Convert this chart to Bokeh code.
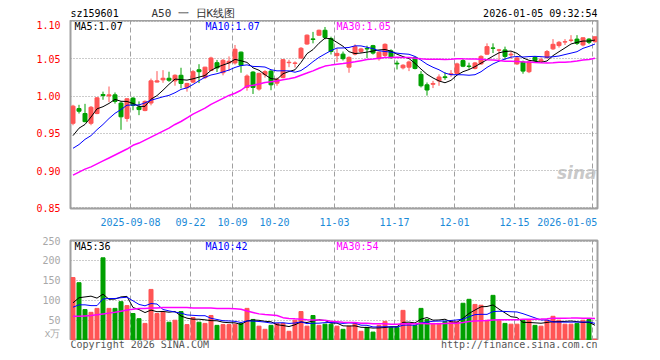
from bokeh.plotting import figure
from bokeh.models import Range1d, FixedTicker, Label, ColumnDataSource
from bokeh.layouts import column
from bokeh.embed import file_html
from bokeh.resources import INLINE
from bokeh.core.properties import value

# ---------------- data ----------------
dates = (
    ["2025-08-%s" % d for d in ["25", "26", "27", "28", "29"]]
    + ["2025-09-%s" % d for d in ["01", "02", "03", "04", "05", "08", "09", "10", "11", "12", "15", "16",
                                  "17", "18", "19", "22", "23", "24", "25", "26", "29", "30"]]
    + ["2025-10-%s" % d for d in ["09", "10", "13", "14", "15", "16", "17", "20", "21", "22", "23", "24",
                                  "27", "28", "29", "30", "31"]]
    + ["2025-11-%s" % d for d in ["03", "04", "05", "06", "07", "10", "11", "12", "13", "14", "17", "18",
                                  "19", "20", "21", "24", "25", "26", "27", "28"]]
    + ["2025-12-%s" % d for d in ["01", "02", "03", "04", "05", "08", "09", "10", "11", "12", "15", "16",
                                  "17", "18", "19", "22", "23", "24", "25", "26", "29", "30", "31"]]
    + ["2026-01-05"]
)

opens = [0.9636, 0.9833, 0.9767, 0.9636, 0.9767, 1.0022, 1.0004, 1.0018, 0.9907, 0.9701,
         0.9974, 0.9855, 0.9807, 0.9908, 1.0190, 1.0220, 1.0241, 1.0206, 1.0281, 1.0114,
         1.0189, 1.0355, 1.0250, 1.0345, 1.0450, 1.0315, 1.0447, 1.0447, 1.0592, 1.0118,
         1.0324, 1.0096, 1.0290, 1.0337, 1.0175, 1.0250, 1.0450, 1.0440, 1.0513, 1.0701,
         1.0770, 1.0820, 1.0886, 1.0776, 1.0545, 1.0565, 1.0390, 1.0565, 1.0600, 1.0640,
         1.0679, 1.0504, 1.0548, 1.0609, 1.0443, 1.0381, 1.0390, 1.0522, 1.0293, 1.0153,
         1.0160, 1.0206, 1.0260, 1.0290, 1.0302, 1.0478, 1.0405, 1.0373, 1.0434, 1.0565,
         1.0648, 1.0618, 1.0622, 1.0555, 1.0434, 1.0460, 1.0329, 1.0522, 1.0470, 1.0520,
         1.0636, 1.0680, 1.0727, 1.0750, 1.0767, 1.0688, 1.0767, 1.0732]
highs = [0.9884, 0.9884, 0.9897, 0.9868, 0.9987, 1.0061, 1.0130, 1.0050, 0.9930, 0.9974,
         0.9987, 0.9930, 0.9943, 1.0237, 1.0337, 1.0350, 1.0329, 1.0294, 1.0382, 1.0180,
         1.0351, 1.0430, 1.0395, 1.0530, 1.0487, 1.0499, 1.0535, 1.0688, 1.0600, 1.0293,
         1.0337, 1.0315, 1.0350, 1.0350, 1.0250, 1.0500, 1.0490, 1.0468, 1.0660, 1.0830,
         1.0864, 1.0895, 1.0930, 1.0800, 1.0640, 1.0600, 1.0535, 1.0697, 1.0650, 1.0679,
         1.0690, 1.0600, 1.0710, 1.0630, 1.0478, 1.0430, 1.0478, 1.0530, 1.0337, 1.0184,
         1.0206, 1.0293, 1.0320, 1.0350, 1.0450, 1.0500, 1.0450, 1.0460, 1.0550, 1.0710,
         1.0710, 1.0635, 1.0666, 1.0600, 1.0530, 1.0478, 1.0470, 1.0540, 1.0520, 1.0620,
         1.0767, 1.0741, 1.0767, 1.0820, 1.0820, 1.0790, 1.0780, 1.0800]
lows = [0.9610, 0.9767, 0.9649, 0.9610, 0.9758, 0.9952, 0.9920, 0.9900, 0.9548, 0.9657,
        0.9811, 0.9745, 0.9798, 0.9877, 1.0184, 1.0180, 1.0193, 1.0141, 1.0105, 1.0061,
        1.0176, 1.0176, 1.0230, 1.0340, 1.0325, 1.0280, 1.0337, 1.0425, 1.0315, 1.0074,
        1.0030, 1.0074, 1.0250, 1.0080, 1.0140, 1.0240, 1.0390, 1.0385, 1.0500, 1.0690,
        1.0710, 1.0810, 1.0763, 1.0560, 1.0460, 1.0480, 1.0315, 1.0548, 1.0580, 1.0513,
        1.0560, 1.0478, 1.0521, 1.0500, 1.0359, 1.0360, 1.0337, 1.0360, 1.0118, 1.0008,
        1.0109, 1.0140, 1.0220, 1.0260, 1.0290, 1.0390, 1.0370, 1.0360, 1.0420, 1.0557,
        1.0579, 1.0470, 1.0491, 1.0500, 1.0420, 1.0302, 1.0310, 1.0460, 1.0450, 1.0500,
        1.0622, 1.0653, 1.0688, 1.0724, 1.0688, 1.0670, 1.0700, 1.0720]
closes = [0.9866, 0.9798, 0.9658, 0.9851, 0.9978, 1.0009, 1.0018, 0.9930, 0.9723, 0.9965,
          0.9877, 0.9820, 0.9930, 1.0206, 1.0206, 1.0241, 1.0215, 1.0281, 1.0171, 1.0171,
          1.0329, 1.0329, 1.0390, 1.0513, 1.0380, 1.0482, 1.0469, 1.0631, 1.0416, 1.0271,
          1.0118, 1.0307, 1.0330, 1.0153, 1.0228, 1.0491, 1.0456, 1.0447, 1.0644, 1.0820,
          1.0762, 1.0886, 1.0790, 1.0600, 1.0575, 1.0504, 1.0521, 1.0666, 1.0635, 1.0635,
          1.0579, 1.0592, 1.0697, 1.0521, 1.0434, 1.0416, 1.0460, 1.0372, 1.0140, 1.0083,
          1.0171, 1.0258, 1.0250, 1.0302, 1.0434, 1.0403, 1.0400, 1.0447, 1.0535, 1.0666,
          1.0644, 1.0622, 1.0535, 1.0565, 1.0513, 1.0337, 1.0460, 1.0478, 1.0490, 1.0600,
          1.0697, 1.0724, 1.0732, 1.0754, 1.0710, 1.0785, 1.0724, 1.0798]
# volume, unit: 万 (10k)
volumes = [158, 145, 77, 70, 80, 208, 80, 80, 97, 87,
           67, 54, 42, 128, 67, 70, 45, 50, 72, 39,
           57, 45, 42, 62, 37, 39, 39, 40, 42, 80,
           52, 35, 27, 37, 42, 42, 22, 50, 72, 35,
           62, 37, 40, 40, 35, 27, 35, 42, 22, 32,
           20, 37, 47, 32, 32, 75, 40, 37, 80, 52,
           42, 42, 47, 47, 46, 93, 103, 90, 88, 50,
           113, 50, 42, 40, 40, 50, 50, 37, 35, 50,
           60, 50, 40, 40, 42, 50, 52, 2]

# moving-average values at the left edge (history before the window)
ma5_head = [0.947, 0.957, 0.962, 0.972]
ma10_head = [0.930, 0.935, 0.942, 0.947, 0.955, 0.962, 0.970, 0.977, 0.982]
ma30_head = [0.894, 0.898, 0.902, 0.905, 0.909, 0.913, 0.917, 0.921, 0.925, 0.929,
             0.934, 0.937, 0.941, 0.945, 0.949, 0.953, 0.957, 0.962, 0.966, 0.971,
             0.976, 0.980, 0.984, 0.989, 0.993, 0.997, 1.001, 1.004, 1.008]
vma5_head = [94, 107, 109, 111]
vma10_head = [83, 89, 89, 87, 87, 104, 105, 105, 107]
vma30_head = [60, 60, 61, 62, 64, 66, 68, 70, 73, 76, 78, 80, 80, 81, 81, 82, 82, 82, 82, 82,
              81, 81, 81, 81, 80, 80, 80, 79, 78]

price_ticks = [0.85, 0.90, 0.95, 1.00, 1.05, 1.10]
vol_ticks = [50, 100, 150, 200, 250]
date_ticks = ["2025-09-08", "2025-09-22", "2025-10-09", "2025-10-20", "2025-11-03",
              "2025-11-17", "2025-12-01", "2025-12-15", "2026-01-05"]
date_tick_labels = ["2025-09-08", "09-22", "10-09", "10-20", "11-03", "11-17", "12-01", "12-15",
                    "2026-01-05"]

code = "sz159601"
title = "A50 一 日K线图"
stamp = "2026-01-05 09:32:54"
price_ma_labels = ["MA5:1.07", "MA10:1.07", "MA30:1.05"]
vol_ma_labels = ["MA5:36", "MA10:42", "MA30:54"]
vol_unit = "x万"
copyright_text = "Copyright 2026 SINA.COM"
url_text = "http://finance.sina.com.cn"


def moving_avg(vals, n, head):
    out = list(head)
    for i in range(len(head), len(vals)):
        out.append(sum(vals[i - n + 1:i + 1]) / n)
    return out


# ---------------- styling ----------------
FONT = "DejaVu Sans Mono"
RED = "#ff5555"
GREEN = "#00a000"
MA_COLORS = ["#000000", "#0000ff", "#ff00ff"]
MA_WIDTHS = [1, 1, 1.5]
GRID = "#a0a0a0"
DATE_COLOR = "#1a8ad8"
W = 660
LEFT, RIGHT = 70, 63

PX = 6.0               # pixels per bar slot
FRAME_W = W - LEFT - RIGHT
X_END = FRAME_W / PX
n = len(closes)
idx = {d: i for i, d in enumerate(dates)}
xs = [i + 2.5 / PX for i in range(n)]
colors = [RED if c >= o else GREEN for o, c in zip(opens, closes)]

src = ColumnDataSource(dict(
    x=xs, o=opens, h=highs, l=lows, c=closes,
    top=[max(o, c) for o, c in zip(opens, closes)],
    bot=[min(o, c) for o, c in zip(opens, closes)],
    v=volumes, zero=[0] * n, color=colors,
    ma5=moving_avg(closes, 5, ma5_head),
    ma10=moving_avg(closes, 10, ma10_head),
    ma30=moving_avg(closes, 30, ma30_head),
    vma5=moving_avg(volumes, 5, vma5_head),
    vma10=moving_avg(volumes, 10, vma10_head),
    vma30=moving_avg(volumes, 30, vma30_head),
))

tick_pos = [idx[d] for d in date_ticks]
x_range = Range1d(0, X_END)


def strip(height):
    # text strip whose frame lines up with the chart frames; x is in canvas pixels
    f = figure(width=W, height=height, x_range=Range1d(LEFT, W - RIGHT), y_range=Range1d(0, height),
               output_backend="svg", toolbar_location=None,
               min_border_left=LEFT, min_border_right=RIGHT, min_border_top=0, min_border_bottom=0)
    f.axis.visible = False
    f.grid.visible = False
    f.outline_line_color = None
    f.background_fill_color = "white"
    f.border_fill_color = "white"
    return f


def style_common(fig):
    fig.outline_line_color = GRID
    fig.outline_line_width = 2
    fig.background_fill_color = "white"
    fig.border_fill_color = "white"
    fig.xgrid.ticker = FixedTicker(ticks=tick_pos)
    fig.xgrid.grid_line_color = GRID
    fig.xgrid.grid_line_dash = "5 3"
    fig.xgrid.grid_line_width = 1
    fig.ygrid.grid_line_color = "#999999"
    fig.ygrid.grid_line_dash = "1 2"
    fig.ygrid.grid_line_width = 1
    fig.yaxis.axis_line_color = None
    fig.yaxis.major_tick_line_color = None
    fig.yaxis.minor_tick_line_color = None
    fig.yaxis.major_label_standoff = 4
    fig.yaxis.major_label_text_font = FONT
    fig.yaxis.major_label_text_font_size = "10px"


gtxt = dict(text_font=value(FONT), text_font_size="10px", text_baseline="middle")

# ---- header strip (canvas y 0..20)
hdr = strip(20)
hdr.text(x=[LEFT], y=[7], text=[code], text_color="#000000", **gtxt)
hdr.text(x=[151], y=[7.5], text=[title], text_color="#333333", text_font=value(FONT),
         text_font_size="11px", text_baseline="middle")
hdr.text(x=[W - RIGHT], y=[7], text=[stamp], text_align="right", text_color="#000000", **gtxt)

# ---- price panel: frame canvas y 20..212, 760 px per 1.0 price unit
P_SCALE = 760.0
P_LO = 0.85 - 0.7 / P_SCALE
P_HI = P_LO + 192 / P_SCALE


def py(canvas_y):
    return P_LO + (212 - canvas_y) / P_SCALE


p = figure(width=W, height=208, x_range=x_range, y_range=Range1d(P_LO, P_HI),
           output_backend="svg", toolbar_location=None,
           min_border_left=LEFT, min_border_right=RIGHT, min_border_top=0, min_border_bottom=16)
style_common(p)
p.ygrid.ticker = FixedTicker(ticks=price_ticks)
p.yaxis.ticker = FixedTicker(ticks=price_ticks)
p.yaxis.major_label_overrides = {t: "%.2f" % t for t in price_ticks}
p.yaxis.major_label_text_color = "#ff0000"

# date labels: the last one is pulled inside the frame (right-aligned to its edge)
label_pos = tick_pos[:-1] + [round(X_END - 30 / PX, 1)]
p.xaxis.ticker = FixedTicker(ticks=label_pos)
p.xaxis.major_label_overrides = {t: lab for t, lab in zip(label_pos, date_tick_labels)}
p.xaxis.axis_line_color = None
p.xaxis.major_tick_line_color = None
p.xaxis.minor_tick_line_color = None
p.xaxis.major_label_standoff = 3
p.xaxis.major_label_text_font = FONT
p.xaxis.major_label_text_font_size = "10px"
p.xaxis.major_label_text_color = DATE_COLOR

# candles
p.segment(x0="x", y0="h", x1="x", y1="l", color="color", line_width=1, source=src)
p.vbar(x="x", width=4 / PX, top="top", bottom="bot", fill_color="color", line_color="color",
       line_width=1, source=src)
for key, col, w in zip(["ma5", "ma10", "ma30"], MA_COLORS, MA_WIDTHS):
    p.line(x="x", y=key, color=col, line_width=w, source=src)

txt = dict(text_font=FONT, text_font_size="10px", text_baseline="middle")
for k, (lab, col) in enumerate(zip(price_ma_labels, MA_COLORS)):
    p.add_layout(Label(x=(4 + 131 * k) / PX, y=py(26.3), text=lab, text_color=col, **txt))
p.add_layout(Label(x=X_END - 1 / PX, y=py(176), text="sina", text_align="right", text_color="#bbbbbb",
                   text_font="DejaVu Sans", text_font_size="17px", text_font_style="bold italic",
                   text_alpha=0.8, text_baseline="middle"))

# ---- volume panel: frame canvas y 240..340
V_SCALE = 0.395
V_LO = -1.3
V_HI = V_LO + 100 / V_SCALE
unit_pos = round((339.5 - 333) / V_SCALE, 1)   # unit label sits a little above the zero line

p2 = figure(width=W, height=112, x_range=x_range, y_range=Range1d(V_LO, V_HI),
            output_backend="svg", toolbar_location=None,
            min_border_left=LEFT, min_border_right=RIGHT, min_border_top=12, min_border_bottom=0)
style_common(p2)
p2.xaxis.visible = False
p2.ygrid.ticker = FixedTicker(ticks=vol_ticks)
p2.yaxis.ticker = FixedTicker(ticks=[unit_pos] + vol_ticks)
ov = {t: str(t) for t in vol_ticks}
ov[unit_pos] = vol_unit
p2.yaxis.major_label_overrides = ov
p2.yaxis.major_label_text_color = "#a8a8a8"

p2.vbar(x="x", width=4 / PX, top="v", bottom="zero", fill_color="color", line_color="color",
        line_width=1, source=src)
for key, col, w in zip(["vma5", "vma10", "vma30"], MA_COLORS, MA_WIDTHS):
    p2.line(x="x", y=key, color=col, line_width=w, source=src)

for k, (lab, col) in enumerate(zip(vol_ma_labels, MA_COLORS)):
    p2.add_layout(Label(x=(4 + 131 * k) / PX, y=V_LO + (340 - 246.3) / V_SCALE, text=lab,
                        text_color=col, **txt))

# ---- footer strip (canvas y 340..360)
ftr = strip(20)
ftr.text(x=[LEFT], y=[15.8], text=[copyright_text], text_color="#555555", **gtxt)
ftr.text(x=[W - RIGHT], y=[15.8], text=[url_text], text_align="right", text_color="#555555", **gtxt)

layout = column(hdr, p, p2, ftr, spacing=0)
open("out.html", "w").write(file_html(layout, INLINE))
